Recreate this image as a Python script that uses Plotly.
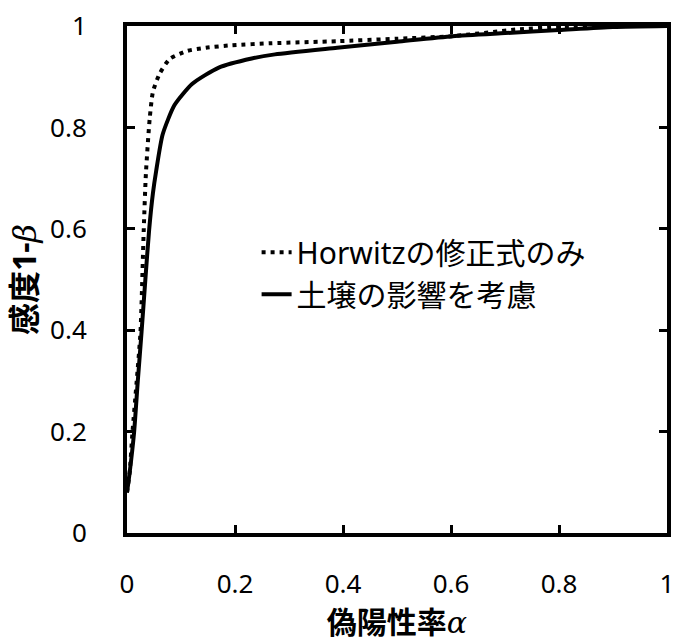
import plotly.graph_objects as go

# False positive rate (alpha) and sensitivity (1-beta)
horwitz_alpha = [0.0, 0.005, 0.010, 0.018, 0.025, 0.031, 0.035, 0.042, 0.048, 0.060, 0.079,
                 0.112, 0.146, 0.194, 0.267, 0.389, 0.50, 0.603, 0.72, 0.80, 0.90, 1.0]
horwitz_sens = [0.08, 0.12, 0.197, 0.30, 0.397, 0.598, 0.709, 0.817, 0.87, 0.905, 0.935,
                0.951, 0.957, 0.962, 0.966, 0.970, 0.975, 0.980, 0.993, 0.998, 1.0, 1.0]

soil_alpha = [0.0, 0.005, 0.013, 0.020, 0.027, 0.034, 0.041, 0.048, 0.054, 0.066, 0.088,
              0.121, 0.170, 0.231, 0.274, 0.389, 0.50, 0.603, 0.70, 0.80, 0.90, 1.0]
soil_sens = [0.08, 0.12, 0.197, 0.30, 0.397, 0.50, 0.598, 0.67, 0.714, 0.786, 0.844,
             0.886, 0.918, 0.936, 0.944, 0.957, 0.969, 0.980, 0.986, 0.992, 0.998, 1.0]

series_names = ["Horwitzの修正式のみ", "土壌の影響を考慮"]
tick_vals = [0, 0.2, 0.4, 0.6, 0.8, 1]
tick_text = ["0", "0.2", "0.4", "0.6", "0.8", "1"]

FONT = "Noto Sans, Noto Sans CJK JP, sans-serif"
GREEK = "font-family:'DejaVu Serif', 'Liberation Serif', serif;font-style:italic;font-weight:normal"

fig = go.Figure()
fig.add_trace(go.Scatter(x=horwitz_alpha, y=horwitz_sens, mode="lines", name=series_names[0],
                         legendgroup="a", line=dict(color="black", width=4, dash="4px,5px", shape="spline", smoothing=0.6)))
fig.add_trace(go.Scatter(x=soil_alpha, y=soil_sens, mode="lines", name=series_names[1],
                         legendgroup="b", line=dict(color="black", width=4, shape="spline", smoothing=0.6)))

axis_common = dict(range=[0, 1], tickvals=tick_vals, ticktext=tick_text, ticks="inside",
                   ticklen=8, tickwidth=3, tickcolor="black", showline=True, linewidth=4,
                   linecolor="black", mirror="ticks", showgrid=False, zeroline=False,
                   tickfont=dict(family=FONT, size=26, color="black"), fixedrange=True)

fig.update_layout(
    width=681, height=642,
    margin=dict(l=127, r=7, t=23, b=104),
    paper_bgcolor="white", plot_bgcolor="white",
    showlegend=True,
    legend=dict(x=0.24, y=0.605, xanchor="left", yanchor="top", bgcolor="rgba(0,0,0,0)",
                font=dict(family=FONT, size=30, color="black"), tracegroupgap=0,
                traceorder="grouped"),
    xaxis=dict(**axis_common, ticklabelstandoff=25,
               title=dict(text=f"<b>偽陽性率</b><span style=\"{GREEK}\">α</span>", standoff=13,
                          font=dict(family=FONT, size=30, color="black"))),
    yaxis=dict(**axis_common, ticklabelstandoff=31,
               title=dict(text=f"<b>感度1-</b><span style=\"{GREEK}\">β</span>", standoff=5,
                          font=dict(family=FONT, size=32, color="black"))),
)
fig.write_html("out.html")
